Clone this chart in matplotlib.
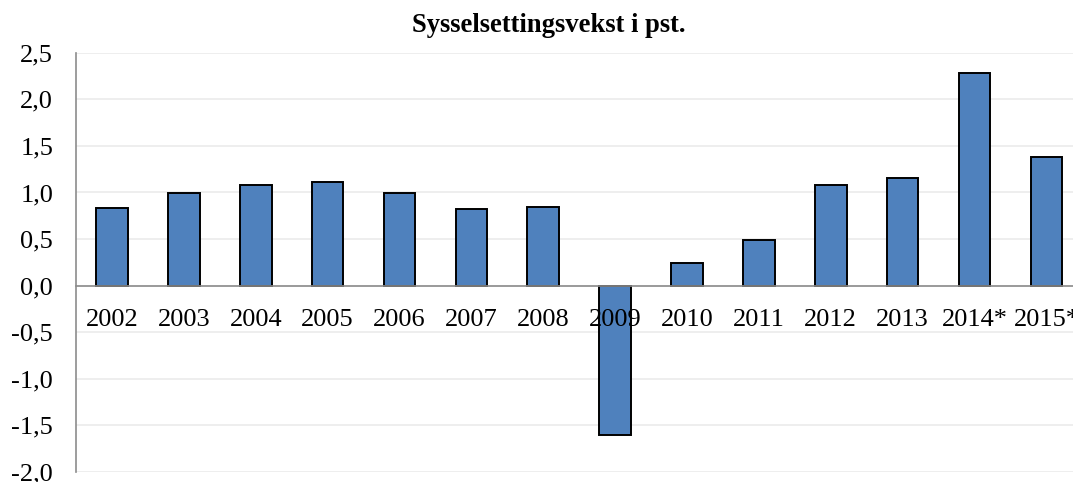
import matplotlib
matplotlib.use("Agg")
import matplotlib.pyplot as plt
import matplotlib.transforms as mtransforms
import numpy as np

categories = ["2002", "2003", "2004", "2005", "2006", "2007", "2008", "2009",
              "2010", "2011", "2012", "2013", "2014*", "2015*"]
values = [0.83, 0.99, 1.08, 1.11, 0.99, 0.82, 0.84, -1.60,
          0.24, 0.49, 1.08, 1.16, 2.28, 1.38]
yticks = [-2.0, -1.5, -1.0, -0.5, 0.0, 0.5, 1.0, 1.5, 2.0, 2.5]
title = "Sysselsettingsvekst i pst."

plt.rcParams['font.family'] = ['Liberation Serif', 'DejaVu Serif']

W, H = 1073, 482
fig = plt.figure(figsize=(W / 100, H / 100), dpi=100)
left = 76 / W
bottom = (H - 472) / H
top = (H - 52.7) / H
width = 14 * 71.88 / W
ax = fig.add_axes([left, bottom, width, top - bottom])

x = np.arange(len(categories))
ax.bar(x, values, width=0.44, color="#4F81BD", edgecolor="black", linewidth=1.4, zorder=3)

ax.set_xlim(-0.5, len(categories) - 0.5)
ax.set_ylim(-2.0, 2.5)

for s in ["top", "right"]:
    ax.spines[s].set_visible(False)
ax.spines["bottom"].set_position(("data", 0))
ax.spines["bottom"].set_color("#8c8c8c")
ax.spines["bottom"].set_linewidth(1.2)
ax.spines["bottom"].set_zorder(4)
ax.spines["left"].set_color("#8c8c8c")
ax.spines["left"].set_linewidth(1.2)

ax.set_yticks(yticks)
ax.set_yticklabels([f"{v:.1f}".replace(".", ",") for v in yticks], fontsize=19)
ax.set_xticks([])
ax.tick_params(axis="y", length=0, pad=16.5)

ax.grid(axis="y", color="#ebebeb", linewidth=1.2, zorder=0)
ax.set_axisbelow(True)

# category labels drawn on top of bars, just below the zero line
offset = mtransforms.offset_copy(ax.transData, fig=fig, x=0, y=-34, units="dots")
for xi, lab in zip(x, categories):
    ax.text(xi, 0, lab, transform=offset, ha="center", va="center",
            fontsize=19, zorder=6, clip_on=False)

fig.text(549 / W, (H - 25) / H, title, ha="center", va="center",
         fontsize=19.2, fontweight="bold")

fig.savefig("out.png", dpi=100)
